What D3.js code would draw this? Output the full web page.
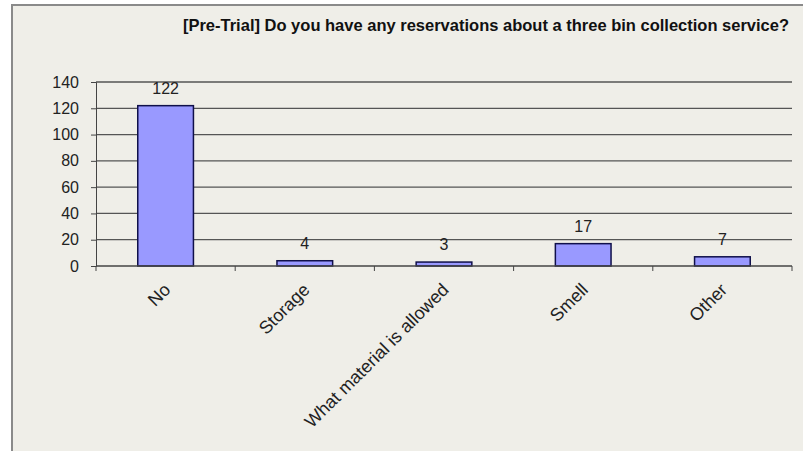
<!DOCTYPE html>
<html><head><meta charset="utf-8">
<script src="https://cdn.jsdelivr.net/npm/d3@7"></script>
<style>body{margin:0;background:#fff;}svg{display:block;font-family:"Liberation Sans",Arial,sans-serif;}</style>
</head><body><svg id="c" width="803" height="451"></svg>
<script>
const categories = ["No","Storage","What material is allowed","Smell","Other"];
const values = [122,4,3,17,7];
const yTicks = [0,20,40,60,80,100,120,140];
const title = "[Pre-Trial] Do you have any reservations about a three bin collection service?";

const svg = d3.select("#c");
svg.append("rect").attr("x",0).attr("y",0).attr("width",803).attr("height",451).attr("fill","#ffffff");
svg.append("rect").attr("x",12).attr("y",5).attr("width",795).attr("height",450).attr("fill","#efeee8").attr("stroke","#8a8a8a").attr("stroke-width",2);

const m = {left:96, right:792, top:82, bottom:266};
const x = d3.scaleBand().domain(categories).range([m.left,m.right]).paddingInner(0.6).paddingOuter(0.3);
const y = d3.scaleLinear().domain([0,140]).range([m.bottom,m.top]);

svg.append("text").attr("x",486).attr("y",31).attr("text-anchor","middle")
  .attr("font-size",16.5).attr("font-weight","bold").attr("fill","#111").text(title);

// gridlines
svg.append("g").selectAll("line").data(yTicks.filter(d=>d>0)).join("line")
  .attr("x1",m.left).attr("x2",m.right).attr("y1",d=>y(d)).attr("y2",d=>y(d))
  .attr("stroke","#555").attr("stroke-width",1.3);

// y axis
const ya = svg.append("g").attr("transform",`translate(${m.left},0)`)
  .call(d3.axisLeft(y).tickValues(yTicks).tickSize(5).tickPadding(12));
ya.select(".domain").attr("stroke","#444");
ya.selectAll(".tick line").attr("stroke","#444");
ya.selectAll("text").attr("font-size",16).attr("fill","#222").attr("font-family","Liberation Sans, Arial, sans-serif");

// bars
svg.append("g").selectAll("rect").data(values).join("rect")
  .attr("x",(d,i)=>x(categories[i])).attr("width",x.bandwidth())
  .attr("y",d=>y(d)).attr("height",d=>y(0)-y(d))
  .attr("fill","#9999ff").attr("stroke","#10104a").attr("stroke-width",1.5);

// x axis
const xa = svg.append("g").attr("transform",`translate(0,${m.bottom})`);
xa.append("line").attr("x1",m.left).attr("x2",m.right).attr("stroke","#444").attr("stroke-width",1.3);
const step = x.step();
const bounds = categories.map((c,i)=>m.left + i*step).concat([m.right]);
xa.selectAll("line.t").data(bounds).join("line").attr("class","t")
  .attr("x1",d=>d).attr("x2",d=>d).attr("y1",0).attr("y2",5).attr("stroke","#444");

// x labels
svg.append("g").selectAll("text").data(categories).join("text")
  .attr("transform",c=>`translate(${x(c)+x.bandwidth()/2-3},${m.bottom+16}) rotate(-45)`)
  .attr("text-anchor","end").attr("dy","0.7em").attr("font-size",18).attr("fill","#222").text(c=>c);

// value labels
svg.append("g").selectAll("text").data(values).join("text")
  .attr("x",(d,i)=>x(categories[i])+x.bandwidth()/2).attr("y",d=>y(d)-12)
  .attr("text-anchor","middle").attr("font-size",16).attr("fill","#222").text(d=>d);
</script></body></html>
